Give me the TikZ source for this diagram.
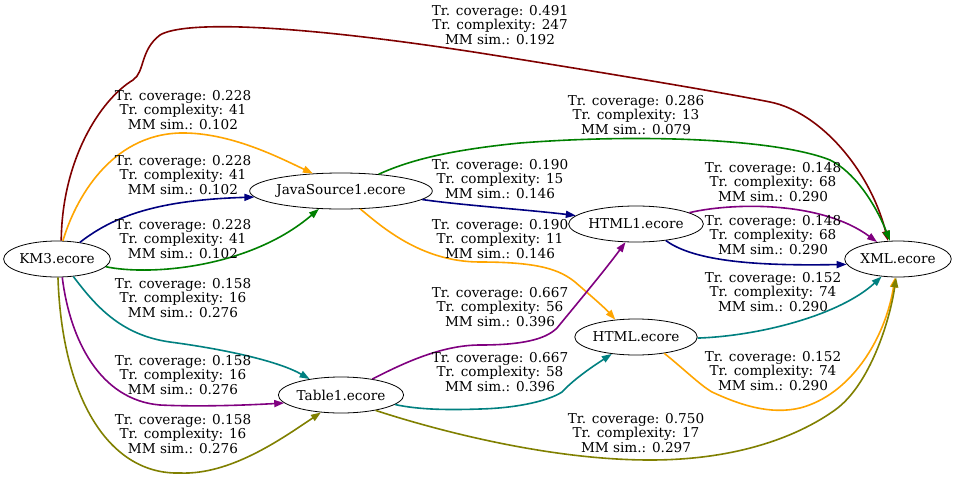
\documentclass[tikz,border=0pt]{standalone}
\usepackage{fontspec}
\setmainfont{DejaVu Serif}
\usetikzlibrary{shapes.geometric,arrows.meta}
\definecolor{cMaroon}{RGB}{128,0,0}
\definecolor{cOrange}{RGB}{255,165,0}
\definecolor{cNavy}{RGB}{0,0,128}
\definecolor{cGreen}{RGB}{0,128,0}
\definecolor{cTeal}{RGB}{0,128,128}
\definecolor{cPurple}{RGB}{128,0,128}
\definecolor{cOlive}{RGB}{128,128,0}
\begin{document}
\begin{tikzpicture}[x=1pt,y=-1pt,
  nd/.style={draw, ellipse, inner sep=0pt, minimum height=36pt, font=\fontsize{13.6}{16}\selectfont, line width=0.8pt},
  ed/.style={line width=1.6pt, -{Triangle[length=10pt,width=7pt]}},
  lb/.style={align=center, font=\fontsize{13.6}{14.7}\selectfont, inner sep=0pt}]
\useasboundingbox (0,0) rectangle (956,477);
\fill[white] (0,0) rectangle (956,477);
% nodes
\node[nd, minimum width=106pt] (KM3) at (57,259) {KM3.ecore};
\node[nd, minimum width=172pt] (JS) at (341,191) {JavaSource1.ecore};
\node[nd, minimum width=130pt] (H1) at (636,224) {HTML1.ecore};
\node[nd, minimum width=106pt] (XML) at (898,259) {XML.ecore};
\node[nd, minimum width=120pt] (H) at (636,337) {HTML.ecore};
\node[nd, minimum width=120pt] (T1) at (341,395) {Table1.ecore};
% edges
\draw[ed, cMaroon] (KM3.77) .. controls (62,160) and (100,100) .. (133,80) .. controls (145,72) and (140,50) .. (160,35) .. controls (185,20) and (300,25) .. (480,53) .. controls (600,72) and (720,92) .. (770,102) .. controls (820,112) and (870,170) .. (XML.119);
\draw[ed, cOrange] (KM3.72) .. controls (75,200) and (110,135) .. (180,133) .. controls (230,132) and (280,158) .. (JS.148);
\draw[ed, cNavy] (KM3.36) .. controls (115,215) and (160,200) .. (JS.184);
\draw[ed, cGreen] (KM3.-9.5) .. controls (150,276) and (250,268) .. (JS.219);
\draw[ed, cTeal] (KM3.-47) .. controls (95,305) and (120,335) .. (170,342) .. controls (230,350) and (280,362) .. (T1.153);
\draw[ed, cPurple] (KM3.-74) .. controls (70,340) and (100,400) .. (160,405) .. controls (200,407) and (250,405) .. (T1.188);
\draw[ed, cOlive] (KM3.-87) .. controls (62,400) and (110,475) .. (180,473) .. controls (230,475) and (280,440) .. (T1.221);
\draw[ed, cGreen] (JS.24.6) .. controls (410,160) and (450,150) .. (520,143) .. controls (650,133) and (780,140) .. (830,160) .. controls (860,175) and (880,215) .. (XML.114);
\draw[ed, cNavy] (JS.-6.5) .. controls (460,205) and (530,210) .. (H1.172);
\draw[ed, cOrange] (JS.-43) .. controls (380,225) and (420,262) .. (480,262) .. controls (540,262) and (560,270) .. (575,282) .. controls (590,295) and (605,308) .. (H.140);
\draw[ed, cPurple] (H1.12.6) .. controls (730,203) and (820,200) .. (XML.141);
\draw[ed, cNavy] (H1.-29.5) .. controls (695,262) and (760,266) .. (XML.186);
\draw[ed, cTeal] (H.-1) .. controls (760,336) and (840,315) .. (XML.227);
\draw[ed, cOrange] (H.-30.6) .. controls (685,370) and (700,385) .. (712,392) .. controls (740,405) and (770,415) .. (800,408) .. controls (850,395) and (885,340) .. (XML.261);
\draw[ed, cPurple] (T1.27) .. controls (400,365) and (440,345) .. (480,345) .. controls (520,345) and (545,340) .. (557,328) .. controls (580,300) and (605,270) .. (H1.240);
\draw[ed, cTeal] (T1.-10) .. controls (420,410) and (450,410) .. (480,409) .. controls (520,408) and (550,400) .. (562,392) .. controls (575,378) and (595,365) .. (H.215);
\draw[ed, cOlive] (T1.-24) .. controls (420,425) and (540,460) .. (650,460) .. controls (740,460) and (800,435) .. (835,410) .. controls (870,385) and (890,320) .. (XML.264);
% labels
\node[lb] (l1) at (500,25) {Tr. coverage: 0.491\\Tr. complexity: 247\\MM sim.: 0.192};
\node[lb] (l2) at (183,110) {Tr. coverage: 0.228\\Tr. complexity: 41\\MM sim.: 0.102};
\node[lb] (l3) at (183,175) {Tr. coverage: 0.228\\Tr. complexity: 41\\MM sim.: 0.102};
\node[lb] (l4) at (183,239) {Tr. coverage: 0.228\\Tr. complexity: 41\\MM sim.: 0.102};
\node[lb] (l5) at (183,298) {Tr. coverage: 0.158\\Tr. complexity: 16\\MM sim.: 0.276};
\node[lb] (l6) at (183,375) {Tr. coverage: 0.158\\Tr. complexity: 16\\MM sim.: 0.276};
\node[lb] (l7) at (183,434) {Tr. coverage: 0.158\\Tr. complexity: 16\\MM sim.: 0.276};
\node[lb] (l8) at (636,115) {Tr. coverage: 0.286\\Tr. complexity: 13\\MM sim.: 0.079};
\node[lb] (l9) at (500,179) {Tr. coverage: 0.190\\Tr. complexity: 15\\MM sim.: 0.146};
\node[lb] (l10) at (500,239) {Tr. coverage: 0.190\\Tr. complexity: 11\\MM sim.: 0.146};
\node[lb] (l11) at (773,182) {Tr. coverage: 0.148\\Tr. complexity: 68\\MM sim.: 0.290};
\node[lb] (l12) at (773,235) {Tr. coverage: 0.148\\Tr. complexity: 68\\MM sim.: 0.290};
\node[lb] (l13) at (773,292) {Tr. coverage: 0.152\\Tr. complexity: 74\\MM sim.: 0.290};
\node[lb] (l14) at (773,371) {Tr. coverage: 0.152\\Tr. complexity: 74\\MM sim.: 0.290};
\node[lb] (l15) at (500,307) {Tr. coverage: 0.667\\Tr. complexity: 56\\MM sim.: 0.396};
\node[lb] (l16) at (500,372) {Tr. coverage: 0.667\\Tr. complexity: 58\\MM sim.: 0.396};
\node[lb] (l17) at (636,433) {Tr. coverage: 0.750\\Tr. complexity: 17\\MM sim.: 0.297};
\end{tikzpicture}
\end{document}
